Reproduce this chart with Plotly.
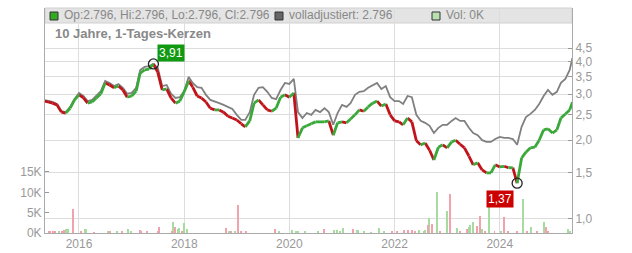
import numpy as np
import pandas as pd
import plotly.graph_objects as go

# ---------------- data ----------------
price_months = pd.date_range("2015-05-01", periods=121, freq="MS")
close = [2.82, 2.80, 2.77, 2.73, 2.56, 2.54, 2.65, 2.85, 2.98, 2.90, 2.77, 2.80,
         2.90, 3.01, 3.31, 3.25, 3.17, 3.22, 3.11, 2.92, 2.95, 3.08, 3.61, 3.71,
         3.74, 3.91, 3.64, 3.11, 3.14, 2.90, 2.77, 2.82, 3.06, 3.37, 3.19, 2.95,
         2.90, 2.80, 2.65, 2.61, 2.61, 2.56, 2.47, 2.43, 2.39, 2.31, 2.25, 2.37,
         2.77, 2.85, 2.73, 2.61, 2.58, 2.65, 2.92, 2.98, 2.92, 3.03, 2.04, 2.23,
         2.27, 2.31, 2.35, 2.35, 2.35, 2.37, 2.09, 2.33, 2.35, 2.33, 2.41, 2.50,
         2.61, 2.58, 2.68, 2.77, 2.82, 2.70, 2.75, 2.50, 2.37, 2.35, 2.29, 2.43,
         2.35, 1.99, 1.92, 1.95, 1.83, 1.68, 1.88, 1.92, 1.87, 1.97, 2.00, 1.93,
         1.87, 1.74, 1.61, 1.64, 1.54, 1.50, 1.50, 1.61, 1.58, 1.59, 1.57, 1.57,
         1.37, 1.71, 1.80, 1.87, 1.88, 2.00, 2.19, 2.21, 2.13, 2.19, 2.43, 2.52,
         2.61]
adjusted = [2.85, 2.82, 2.80, 2.75, 2.58, 2.56, 2.68, 2.87, 3.03, 2.95, 2.82, 2.85,
            2.95, 3.08, 3.37, 3.31, 3.22, 3.28, 3.17, 3.01, 3.03, 3.17, 3.71, 3.81,
            3.84, 3.91, 3.78, 3.22, 3.25, 3.01, 2.90, 2.92, 3.08, 3.49, 3.31, 3.19,
            3.17, 2.98, 2.85, 2.80, 2.77, 2.73, 2.68, 2.63, 2.50, 2.39, 2.39, 2.56,
            2.98, 3.17, 3.19, 3.06, 2.90, 2.87, 3.11, 3.31, 3.28, 3.43, 2.56, 2.43,
            2.54, 2.50, 2.61, 2.56, 2.65, 2.56, 2.29, 2.54, 2.73, 2.68, 2.77, 2.98,
            3.06, 3.08, 3.17, 3.25, 3.31, 3.14, 3.22, 2.92, 2.82, 2.82, 2.75, 2.95,
            2.92, 2.50, 2.37, 2.33, 2.27, 2.13, 2.23, 2.29, 2.29, 2.37, 2.43, 2.37,
            2.37, 2.23, 2.13, 2.09, 2.00, 1.97, 1.97, 2.02, 2.06, 2.04, 2.04, 2.02,
            1.92, 2.25, 2.45, 2.52, 2.61, 2.75, 2.95, 3.11, 2.98, 3.06, 3.31, 3.43,
            3.71]
last_date = "2025-05-20"
last_close = 2.796
last_adjusted = 4.12
# from this month on, the reference shows only green (rising) candles
all_green_from = "2024-05-01"

# volume (decimal year, thousands of shares, direction u/d)
vol_year = [2015.42, 2015.45, 2015.51, 2015.54, 2015.62, 2015.68, 2015.72, 2015.75, 2015.79, 2015.89,
            2016.04, 2016.11, 2016.13, 2016.29, 2016.55, 2016.59, 2016.72, 2016.82, 2016.93, 2016.99,
            2017.16, 2017.18, 2017.29, 2017.50, 2017.52, 2017.77, 2017.79, 2017.83, 2017.88, 2017.90,
            2017.96, 2018.00, 2018.05, 2018.79, 2018.85, 2018.89, 2018.97, 2019.02, 2019.08, 2019.17,
            2019.73, 2019.80, 2020.05, 2020.13, 2020.17, 2020.30, 2020.54, 2020.66, 2020.85, 2020.90,
            2020.96, 2021.02, 2021.21, 2021.29, 2021.30, 2021.42, 2021.55, 2021.70, 2021.80, 2021.95,
            2022.05, 2022.18, 2022.25, 2022.33, 2022.39, 2022.46, 2022.56, 2022.58, 2022.63, 2022.65,
            2022.71, 2022.80, 2022.86, 2022.99, 2023.05, 2023.19, 2023.24, 2023.38, 2023.41, 2023.43,
            2023.49, 2023.57, 2023.62, 2023.66, 2023.72, 2023.79, 2023.90, 2024.02, 2024.08, 2024.16,
            2024.33, 2024.44, 2024.52, 2024.59, 2024.71, 2024.84, 2024.88, 2024.92, 2025.30, 2025.33]
vol_k = [0.5, 0.5, 0.4, 0.5, 0.5, 0.5, 0.8, 1.0, 1.0, 5.8,
         0.5, 1.0, 1.0, 0.2, 0.5, 0.3, 0.4, 0.5, 1.0, 0.3,
         0.7, 0.6, 0.5, 0.3, 1.5, 0.6, 2.6, 1.5, 1.1, 1.3,
         0.5, 2.5, 1.1, 1.2, 0.4, 0.6, 0.5, 6.9, 0.5, 0.3,
         1.1, 0.3, 0.8, 0.5, 0.4, 0.3, 0.3, 0.9, 0.8, 0.8,
         0.4, 1.2, 0.9, 0.7, 0.7, 0.3, 0.2, 1.2, 0.5, 0.6,
         0.4, 0.7, 0.7, 0.7, 0.6, 0.7, 0.5, 0.7, 2.0, 3.7,
         2.3, 10.1, 0.3, 5.3, 9.7, 1.2, 0.4, 0.9, 1.4, 2.0,
         2.7, 1.7, 4.2, 1.0, 0.6, 9.8, 0.3, 0.6, 3.9, 0.5,
         0.5, 8.3, 0.3, 1.5, 0.4, 2.7, 1.5, 0.5, 1.0, 0.5]
vol_dir = list("ddddudduud"
               "duudududuu"
               "dddddduduu"
               "duudududdd"
               "duuuuuuduu"
               "uuduuuuuud"
               "ddddduuudu"
               "dudududduu"
               "uddudududd"
               "dudududduu")

price_ticks = [1.0, 1.5, 2.0, 2.5, 3.0, 3.5, 4.0, 4.5]
vol_ticks = [0, 5000, 10000, 15000]
vol_tick_text = ["0K", "5K", "10K", "15K"]
year_ticks = ["2016-01-01", "2018-01-01", "2020-01-01", "2022-01-01", "2024-01-01"]
year_tick_text = ["2016", "2018", "2020", "2022", "2024"]

# ---------------- derived ----------------
dates = list(price_months) + [pd.Timestamp(last_date)]
closes = close + [last_close]
adj = adjusted + [last_adjusted]
green_start = pd.Timestamp(all_green_from)

def dec_to_date(y):
    yr = int(np.floor(y))
    start = pd.Timestamp(f"{yr}-01-01")
    return start + pd.Timedelta(days=(y - yr) * 365.25)

vdates = [dec_to_date(y) for y in vol_year]
vvals = [v * 1000 for v in vol_k]

GREEN = "#3aa83a"
RED = "#c0141a"
GREY_TXT = "#999999"

fig = go.Figure()

# volume bars
for d, col in (("u", "#a6dca0"), ("d", "#f2a2ac")):
    xs = [vd for vd, dd in zip(vdates, vol_dir) if dd == d]
    ys = [vv for vv, dd in zip(vvals, vol_dir) if dd == d]
    fig.add_trace(go.Bar(x=xs, y=ys, marker=dict(color=col, line=dict(width=0)),
                         width=6 * 86400000, yaxis="y", showlegend=False, hoverinfo="skip"))

# adjusted grey line
fig.add_trace(go.Scatter(x=dates, y=adj, mode="lines", line=dict(color="#808080", width=1.8),
                         yaxis="y2", showlegend=False, hoverinfo="skip"))

# price: segments coloured by direction (up = green, down = red)
up_x, up_y, dn_x, dn_y = [], [], [], []
for i in range(1, len(dates)):
    seg_x = [dates[i - 1], dates[i], None]
    seg_y = [closes[i - 1], closes[i], None]
    if closes[i] >= closes[i - 1] or dates[i - 1] >= green_start:
        up_x += seg_x; up_y += seg_y
    else:
        dn_x += seg_x; dn_y += seg_y
fig.add_trace(go.Scatter(x=dn_x, y=dn_y, mode="lines", line=dict(color=RED, width=2.8),
                         yaxis="y2", showlegend=False, hoverinfo="skip", connectgaps=False))
fig.add_trace(go.Scatter(x=up_x, y=up_y, mode="lines", line=dict(color=GREEN, width=2.8),
                         yaxis="y2", showlegend=False, hoverinfo="skip", connectgaps=False))

# extremes
imax = int(np.argmax(closes))
imin = int(np.argmin(closes))
fig.add_trace(go.Scatter(x=[dates[imax], dates[imin]], y=[closes[imax], closes[imin]], mode="markers",
                         marker=dict(symbol="circle-open", size=10, color="#222222", line=dict(width=1.3)),
                         yaxis="y2", showlegend=False, hoverinfo="skip"))

def fmt(v):
    return f"{v:.2f}".replace(".", ",")

fig.add_annotation(x=dates[imax], y=np.log10(closes[imax]), yref="y2", xref="x",
                   text=fmt(closes[imax]), showarrow=False, xanchor="left", yanchor="bottom",
                   xshift=4, yshift=2, bgcolor="#119911", borderpad=1,
                   font=dict(color="white", size=12, family="Liberation Sans, Arial"))
fig.add_annotation(x=dates[imin], y=np.log10(closes[imin]), yref="y2", xref="x",
                   text=fmt(closes[imin]), showarrow=False, xanchor="right", yanchor="top",
                   xshift=-3, yshift=-7, bgcolor="#cc0000", borderpad=1,
                   font=dict(color="white", size=12, family="Liberation Sans, Arial"))

# header band
fig.add_shape(type="rect", xref="paper", yref="paper", x0=0, x1=1, y0=(233 - 23) / 225, y1=1,
              fillcolor="#e4e4e4", line=dict(color="#d0d0d0", width=1), layer="below")

hdr_y = (233 - 15.5) / 225
def legend_item(xpx, color, text):
    fig.add_shape(type="rect", xref="paper", yref="paper",
                  x0=(xpx - 45) / 527, x1=(xpx + 8 - 45) / 527,
                  y0=(233 - 20) / 225, y1=(233 - 12) / 225,
                  fillcolor=color, line=dict(color="#333333", width=1))
    fig.add_annotation(xref="paper", yref="paper", x=(xpx + 12 - 45) / 527, y=hdr_y,
                       text=text, showarrow=False, xanchor="left", yanchor="middle",
                       font=dict(color="#888888", size=12, family="Liberation Sans, Arial"))

legend_item(50, "#33aa22", "Op:2.796, Hi:2.796, Lo:2.796, Cl:2.796")
legend_item(275, "#666666", "volladjustiert: 2.796")
legend_item(432, "#b8e0b0", "Vol: 0K")

fig.add_annotation(xref="paper", yref="paper", x=(53 - 45) / 527, y=(233 - 33) / 225,
                   text="<b>10 Jahre, 1-Tages-Kerzen</b>", showarrow=False,
                   xanchor="left", yanchor="middle",
                   font=dict(color="#888888", size=13, family="Liberation Sans, Arial"))

tickfont = dict(color=GREY_TXT, size=12, family="Liberation Sans, Arial")
fig.update_layout(
    width=632, height=253,
    margin=dict(l=45, r=60, t=8, b=20, autoexpand=False),
    paper_bgcolor="white", plot_bgcolor="white",
    separators=",.",
    bargap=0,
    xaxis=dict(type="date", range=["2015-05-10", "2025-05-17"], tickvals=year_ticks,
               ticktext=year_tick_text, showgrid=True, gridcolor="#dddddd", gridwidth=1,
               showline=True, linecolor="#aaaaaa", ticks="", tickfont=tickfont,
               zeroline=False, automargin=False),
    yaxis=dict(range=[0, 55300], tickvals=vol_ticks, ticktext=vol_tick_text, showgrid=False,
               showline=True, linecolor="#aaaaaa", ticks="inside", ticklen=4, tickcolor="#999999",
               tickfont=tickfont, zeroline=False, side="left", automargin=False),
    yaxis2=dict(type="log", range=[-0.0535, 0.806], tickvals=price_ticks, tickformat=".1f",
                overlaying="y", side="right", showgrid=True, gridcolor="#dddddd",
                showline=True, linecolor="#aaaaaa", ticks="inside", ticklen=4, tickcolor="#999999",
                tickfont=tickfont, zeroline=False, automargin=False),
)

fig.write_html("out.html")
